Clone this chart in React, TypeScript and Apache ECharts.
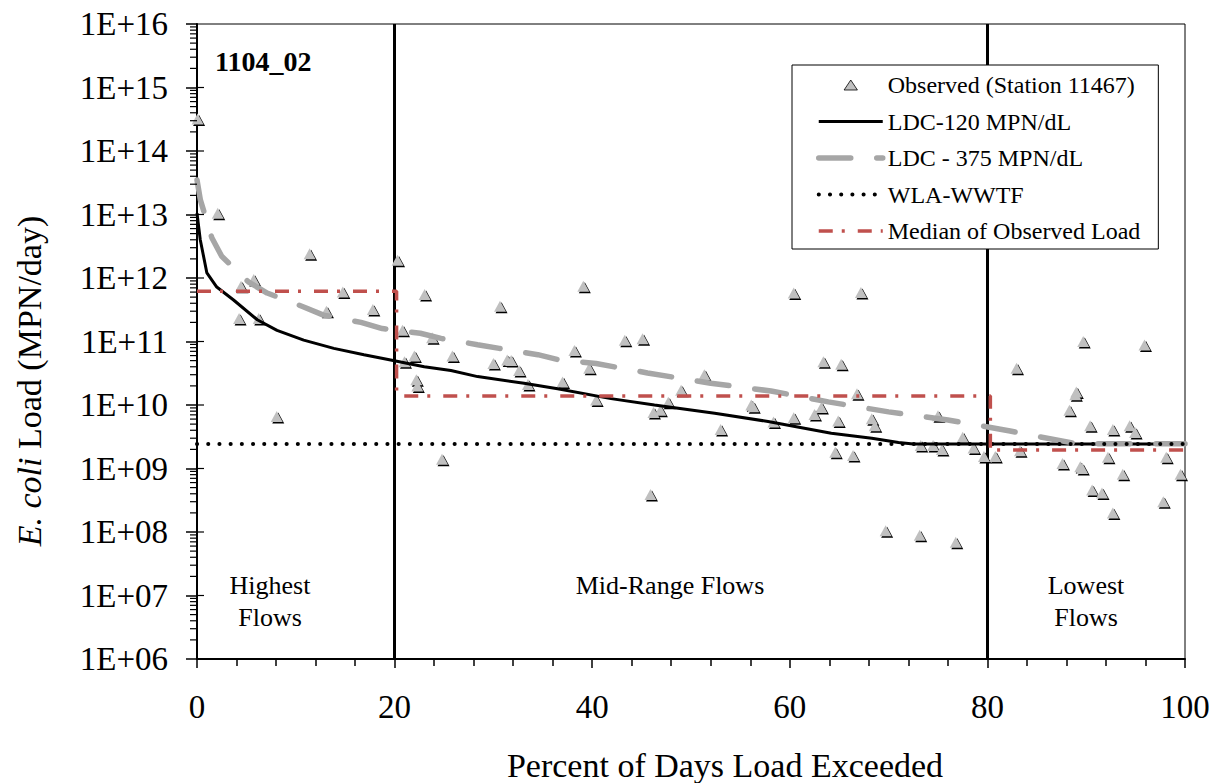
import React, { useEffect, useRef } from "react";
import * as echarts from "echarts";

const FONT = '"Liberation Serif", "Times New Roman", serif';

// Observed E. coli loads (Station 11467): [percent of days exceeded, MPN/day]
const observed: [number, number][] = [
  [0.06, 3.2e14], [2.1, 1.05e13], [11.4, 2.4e12], [20.3, 1.9e12], [39.1, 7.4e11],
  [5.74, 9.5e11], [4.46, 7.4e11], [14.76, 6e11], [23.04, 5.5e11], [30.67, 3.6e11],
  [13.1, 3e11], [17.8, 3.2e11], [4.26, 2.3e11], [6.25, 2.3e11], [20.8, 1.5e11],
  [23.8, 1.15e11], [22.0, 5.9e10], [21.0, 4.8e10], [25.85, 5.9e10], [30.0, 4.5e10],
  [31.4, 5.1e10], [31.8, 5.0e10], [32.6, 3.5e10], [38.2, 7.2e10], [39.7, 3.8e10],
  [22.2, 2.5e10], [22.3, 2.0e10], [33.5, 2.1e10], [37.0, 2.3e10], [40.4, 1.2e10],
  [8.07, 6.6e9], [24.8, 1.4e9],
  [60.4, 5.8e11], [67.2, 5.9e11], [43.3, 1.05e11], [45.1, 1.1e11], [63.4, 4.8e10],
  [65.2, 4.4e10], [51.35, 3e10], [49.0, 1.7e10], [66.8, 1.5e10], [47.7, 1.1e10],
  [46.9, 8.3e9], [46.2, 7.6e9], [56.1, 1e10], [56.3, 9.4e9], [63.2, 9.1e9],
  [62.5, 7.1e9], [60.4, 6.3e9], [64.9, 5.6e9], [68.3, 6.1e9], [68.6, 4.7e9],
  [58.35, 5.4e9], [53.0, 4.1e9], [75.0, 6.8e9], [77.5, 3.1e9], [73.25, 2.3e9],
  [74.5, 2.3e9], [75.4, 2.0e9], [78.6, 2.1e9], [64.6, 1.8e9], [66.4, 1.6e9],
  [79.65, 1.55e9], [80.8, 1.55e9], [45.9, 3.9e8], [69.7, 1.05e8], [73.15, 8.9e7],
  [76.8, 6.9e7],
  [89.7, 1e11], [95.9, 8.8e10], [82.95, 3.8e10], [88.9, 1.45e10], [89.0, 1.6e10],
  [88.3, 8.3e9], [90.4, 4.7e9], [92.7, 4.1e9], [94.4, 4.7e9], [94.95, 3.7e9],
  [83.3, 1.9e9], [87.6, 1.2e9], [89.4, 1.07e9], [89.6, 1.0e9], [92.2, 1.5e9],
  [98.1, 1.5e9], [93.7, 8.1e8], [99.55, 8.1e8], [90.6, 4.6e8], [91.6, 4.1e8],
  [97.8, 3e8], [92.7, 2e8],
];

// Load duration curve at 120 MPN/dL
const ldc120: [number, number][] = [
  [0, 1.05e13], [0.33, 4e12], [1.0, 1.2e12], [2.0, 7.2e11], [3.7, 4.5e11],
  [6.1, 2.2e11], [8.1, 1.5e11], [10.8, 1.05e11], [13.85, 7.8e10], [16.9, 6.2e10],
  [19.6, 5.1e10], [23.0, 4.0e10], [25.7, 3.5e10], [28.4, 2.8e10], [33.1, 2.2e10],
  [36.5, 1.8e10], [41.9, 1.26e10], [46.3, 1.0e10], [52.4, 7.4e9], [57.8, 5.5e9],
  [64.2, 3.6e9], [68.3, 3.0e9], [71.0, 2.57e9], [72.5, 2.43e9], [100, 2.43e9],
];

// Load duration curve at 375 MPN/dL
const ldc375: [number, number][] = [
  [0, 3.5e13], [0.34, 1.7e13], [1.5, 4.3e12], [2.5, 2.2e12], [5.2, 8.7e11],
  [7.1, 5.8e11], [10.8, 3.5e11], [12.8, 2.6e11], [16.6, 2.0e11], [18.75, 1.6e11],
  [22.6, 1.35e11], [24.7, 1.12e11], [28.4, 8.9e10], [30.6, 7.8e10], [34.5, 6.2e10],
  [36.5, 5.2e10], [40.4, 4.5e10], [45.6, 3.2e10], [52.0, 2.2e10], [58.1, 1.66e10],
  [63.9, 1.12e10], [70.0, 7.8e9], [76.0, 5.8e9], [82.3, 3.9e9], [84.1, 3.4e9],
  [88.2, 2.6e9], [89.0, 2.45e9], [100, 2.45e9],
];

// Wasteload allocation (WWTF)
const wla: [number, number][] = [[0, 2.43e9], [100, 2.43e9]];

// Median of observed load per flow regime
const median: [number, number][] = [
  [0, 6.2e11], [20.2, 6.2e11], [20.2, 1.39e10], [80.3, 1.39e10], [80.3, 1.95e9], [100, 1.95e9],
];

const flowBreaks = [20, 80];
const decades = [6, 7, 8, 9, 10, 11, 12, 13, 14, 15];
const minorMultipliers = [1, 2, 3, 4, 5, 6, 7, 8, 9];

const seriesNames = [
  "Observed (Station 11467)",
  "LDC-120 MPN/dL",
  "LDC - 375 MPN/dL",
  "WLA-WWTF",
  "Median of Observed Load",
];

export default function App() {
  const ref = useRef<HTMLDivElement>(null);

  useEffect(() => {
    if (!ref.current) return;
    const chart = echarts.init(ref.current, undefined, { renderer: "svg" });

    const yTicks: [number, number, number][] = [];
    decades.forEach((d) => {
      minorMultipliers.forEach((m) => {
        if (d === 6 && m === 1) return;
        yTicks.push([0, m * Math.pow(10, d), m === 1 ? 1 : 0]);
      });
    });

    const hideSym = { opacity: 0 };

    const option: any = {
      animation: false,
      backgroundColor: "#fff",
      textStyle: { fontFamily: FONT, color: "#000" },
      grid: {
        left: 197,
        top: 24,
        width: 988,
        height: 635,
        show: true,
        borderColor: "#000",
        borderWidth: 1,
        backgroundColor: "transparent",
        containLabel: false,
        outerBoundsMode: "none",
      },
      legend: {
        show: true,
        orient: "vertical",
        left: 792,
        top: 65,
        z: 20,
        padding: [8, 18, 6, 24],
        itemWidth: 64,
        itemHeight: 10,
        itemGap: 12.5,
        backgroundColor: "#fff",
        borderColor: "#000",
        borderWidth: 1,
        borderRadius: 0,
        selectedMode: false,
        symbolKeepAspect: true,
        textStyle: { fontFamily: FONT, fontSize: 24, color: "#000" },
        data: [
          {
            name: seriesNames[0],
            icon: "path://M6,0L12,9L0,9Z",
            itemStyle: { color: "#c0c0c0", borderColor: "#000", borderWidth: 0.8 },
          },
          { name: seriesNames[1], itemStyle: hideSym, lineStyle: { width: 3 } },
          { name: seriesNames[2], itemStyle: hideSym, lineStyle: { width: 5.5 } },
          { name: seriesNames[3], itemStyle: hideSym, lineStyle: { width: 4 } },
          { name: seriesNames[4], itemStyle: hideSym, lineStyle: { width: 3.5 } },
        ],
      },
      xAxis: {
        type: "value",
        min: 0,
        max: 100,
        interval: 20,
        axisLine: { lineStyle: { color: "#000", width: 2 } },
        axisTick: { length: 9, lineStyle: { color: "#000", width: 1.5 } },
        minorTick: { show: true, splitNumber: 5, length: 7, lineStyle: { color: "#000", width: 1.5 } },
        splitLine: { show: false },
        axisLabel: { fontFamily: FONT, fontSize: 33, color: "#000", margin: 31 },
        name: "Percent of Days Load Exceeded",
        nameLocation: "middle",
        nameGap: 89,
        nameTextStyle: { fontFamily: FONT, fontSize: 34, color: "#000", padding: [0, 0, 0, 68] },
      },
      yAxis: {
        type: "log",
        logBase: 10,
        min: 1e6,
        max: 1e16,
        interval: 1,
        splitNumber: 10,
        axisLine: { lineStyle: { color: "#000", width: 2 } },
        axisTick: { length: 11, lineStyle: { color: "#000", width: 1.5 } },
        splitLine: { show: false },
        axisLabel: {
          fontFamily: FONT,
          fontSize: 33,
          color: "#000",
          margin: 29,
          formatter: (v: number) => {
            const e = Math.round(Math.log10(v));
            return "1E+" + (e < 10 ? "0" + e : String(e));
          },
        },
      },
      graphic: [
        {
          type: "text",
          x: 215,
          y: 61,
          style: {
            text: "1104_02",
            fontFamily: FONT,
            fontSize: 28,
            fontWeight: "bold",
            fill: "#000",
            align: "left",
            verticalAlign: "middle",
          },
        },
        {
          type: "text",
          x: 270,
          y: 601,
          style: {
            text: "Highest\nFlows",
            fontFamily: FONT,
            fontSize: 26,
            lineHeight: 32,
            fill: "#000",
            align: "center",
            verticalAlign: "middle",
          },
        },
        {
          type: "text",
          x: 670,
          y: 585,
          style: {
            text: "Mid-Range Flows",
            fontFamily: FONT,
            fontSize: 26,
            fill: "#000",
            align: "center",
            verticalAlign: "middle",
          },
        },
        {
          type: "text",
          x: 1086,
          y: 601,
          style: {
            text: "Lowest\nFlows",
            fontFamily: FONT,
            fontSize: 26,
            lineHeight: 32,
            fill: "#000",
            align: "center",
            verticalAlign: "middle",
          },
        },
        {
          type: "text",
          x: 29,
          y: 381,
          rotation: Math.PI / 2,
          style: {
            text: "{i|E. coli} Load (MPN/day)",
            fontFamily: FONT,
            fontSize: 34,
            fill: "#000",
            align: "center",
            verticalAlign: "middle",
            rich: {
              i: { fontFamily: FONT, fontSize: 34, fontStyle: "italic", fill: "#000" },
            },
          },
        },
      ],
      series: [
        {
          name: "shadow",
          type: "scatter",
          data: observed,
          symbol: "triangle",
          symbolSize: [12, 11],
          symbolOffset: [1.5, 1.5],
          itemStyle: { color: "#000", opacity: 1 },
          silent: true,
          z: 2,
        },
        {
          name: seriesNames[0],
          type: "scatter",
          data: observed,
          symbol: "triangle",
          symbolSize: [12, 11],
          itemStyle: { color: "#c0c0c0", opacity: 1 },
          silent: true,
          z: 3,
        },
        {
          name: seriesNames[1],
          type: "line",
          data: ldc120,
          symbol: "none",
          showSymbol: false,
          lineStyle: { color: "#000", width: 3 },
          itemStyle: { color: "#000" },
          z: 4,
          silent: true,
          markLine: {
            silent: true,
            z: 3,
            symbol: ["none", "none"],
            label: { show: false },
            lineStyle: { color: "#000", width: 3, type: "solid" },
            data: flowBreaks.map((v) => ({ xAxis: v })),
          },
        },
        {
          name: seriesNames[2],
          type: "line",
          data: ldc375,
          symbol: "none",
          showSymbol: false,
          lineStyle: { color: "#a6a6a6", width: 5.5, type: [32, 26], cap: "round" },
          itemStyle: { color: "#a6a6a6" },
          z: 4,
          silent: true,
        },
        {
          name: seriesNames[3],
          type: "line",
          data: wla,
          symbol: "none",
          showSymbol: false,
          lineStyle: { color: "#000", width: 4, type: [0.1, 11.1], cap: "round" },
          itemStyle: { color: "#000" },
          z: 4,
          silent: true,
        },
        {
          name: seriesNames[4],
          type: "line",
          data: median,
          symbol: "none",
          showSymbol: false,
          lineStyle: { color: "#c0504d", width: 3.5, type: [14, 9, 3, 13] },
          itemStyle: { color: "#c0504d" },
          z: 4,
          silent: true,
        },
        {
          name: "yticks",
          type: "custom",
          data: yTicks,
          silent: true,
          clip: false,
          z: 6,
          renderItem: (params: any, api: any) => {
            const p = api.coord([api.value(0), api.value(1)]);
            const major = api.value(2) === 1;
            return {
              type: "line",
              shape: {
                x1: major ? p[0] : p[0] - 7,
                y1: p[1],
                x2: major ? p[0] + 7 : p[0],
                y2: p[1],
              },
              style: { stroke: "#000", lineWidth: 1.2 },
            };
          },
        },
      ],
    };

    chart.setOption(option);
    return () => chart.dispose();
  }, []);

  return (
    <div
      ref={ref}
      style={{ position: "fixed", left: 0, top: 0, width: 1222, height: 783, background: "#fff" }}
    />
  );
}
